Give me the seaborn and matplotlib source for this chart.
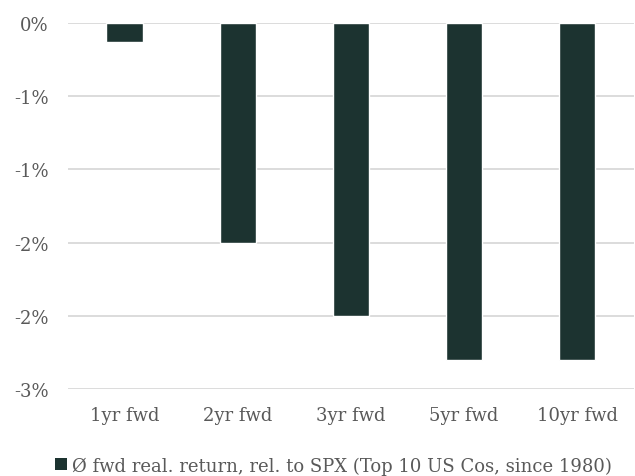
import matplotlib
matplotlib.use("Agg")
import matplotlib.pyplot as plt
import seaborn as sns
import pandas as pd
from matplotlib.patches import Patch

horizons = ["1yr fwd", "2yr fwd", "3yr fwd", "5yr fwd", "10yr fwd"]
rel_return = [-0.13, -1.5, -2.0, -2.3, -2.3]
y_ticks = [0.0, -0.5, -1.0, -1.5, -2.0, -2.5]
y_tick_labels = ["0%", "-1%", "-1%", "-2%", "-2%", "-3%"]
series_name = "Ø fwd real. return, rel. to SPX (Top 10 US Cos, since 1980)"

bar_color = "#1c3330"
text_color = "#595959"
grid_color = "#d9d9d9"

sns.set_theme(style="white")
plt.rcParams["font.family"] = ["DejaVu Serif"]

df = pd.DataFrame({"horizon": horizons, "value": rel_return})

fig = plt.figure(figsize=(6.35, 4.77), dpi=100)
ax = fig.add_axes([0.107, 0.1824, 0.891, 0.7673])

sns.barplot(data=df, x="horizon", y="value", color=bar_color, width=0.32,
            saturation=1, ax=ax, zorder=3)

ax.set_ylim(-2.5, 0)
ax.set_yticks(y_ticks)
ax.set_yticklabels(y_tick_labels)
ax.set_xlabel("")
ax.set_ylabel("")
for s in ax.spines.values():
    s.set_visible(False)
for y in y_ticks:
    ax.axhline(y, color=grid_color, lw=1.3, zorder=1)
ax.tick_params(axis="both", length=0, colors=text_color, labelsize=13)
ax.tick_params(axis="y", pad=14)
ax.tick_params(axis="x", pad=12)

handle = Patch(facecolor=bar_color, edgecolor="none")
fig.legend([handle], [series_name], loc="center", bbox_to_anchor=(0.525, 0.022),
           frameon=False, fontsize=13, labelcolor=text_color,
           handlelength=0.65, handleheight=0.65, handletextpad=0.25)

fig.savefig("out.png", dpi=100)
